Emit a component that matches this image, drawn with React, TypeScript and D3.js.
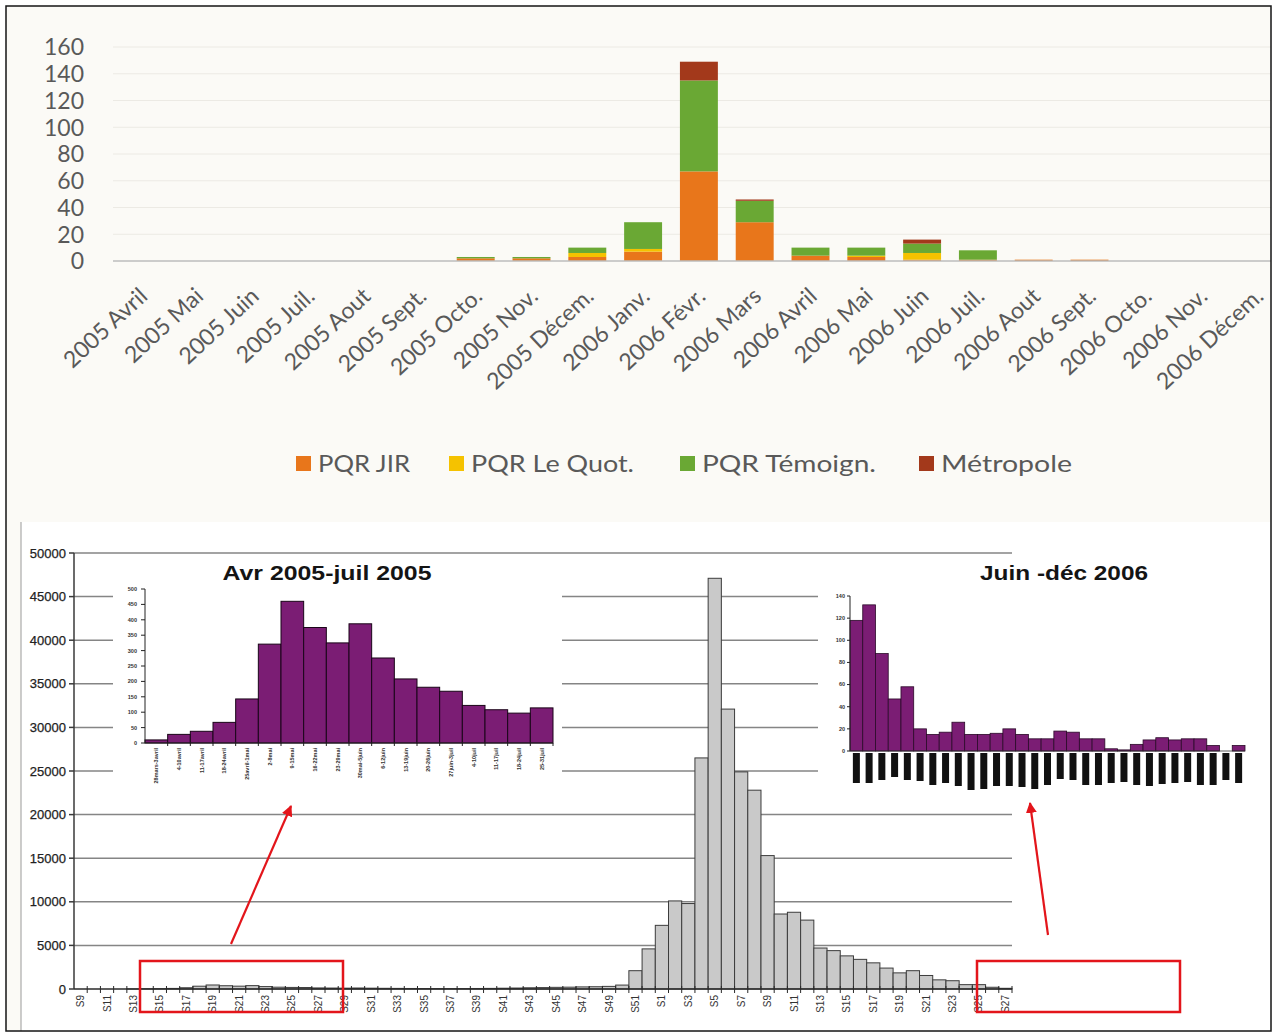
import React from "react";
import * as d3 from "d3";

// ---------- Top chart data (monthly press articles) ----------
const months = [
  "2005 Avril", "2005 Mai", "2005 Juin", "2005 Juil.", "2005 Aout", "2005 Sept.",
  "2005 Octo.", "2005 Nov.", "2005 Décem.", "2006 Janv.", "2006 Févr.", "2006 Mars",
  "2006 Avril", "2006 Mai", "2006 Juin", "2006 Juil.", "2006 Aout", "2006 Sept.",
  "2006 Octo.", "2006 Nov.", "2006 Décem.",
];
const pqrJir = [0, 0, 0, 0, 0, 0, 2, 2, 3, 7, 67, 29, 4, 3, 1, 1, 1, 1, 0, 0, 0];
const pqrQuot = [0, 0, 0, 0, 0, 0, 0, 0, 3, 2, 0, 0, 0, 1, 5, 0, 0, 0, 0, 0, 0];
const pqrTemoign = [0, 0, 0, 0, 0, 0, 1, 1, 4, 20, 68, 16, 6, 6, 7, 7, 0, 0, 0, 0, 0];
const metropole = [0, 0, 0, 0, 0, 0, 0, 0, 0, 0, 14, 1, 0, 0, 3, 0, 0, 0, 0, 0, 0];
const seriesNames = ["PQR JIR", "PQR Le Quot.", "PQR Témoign.", "Métropole"];
const seriesColors = ["#E8761B", "#F5C200", "#6AA834", "#A3391B"];
const topTicks = [0, 20, 40, 60, 80, 100, 120, 140, 160];

// ---------- Bottom chart data (weekly cases) ----------
const weekLabels = [
  "S9", "S10", "S11", "S12", "S13", "S14", "S15", "S16", "S17", "S18", "S19", "S20",
  "S21", "S22", "S23", "S24", "S25", "S26", "S27", "S28", "S29", "S30", "S31", "S32",
  "S33", "S34", "S35", "S36", "S37", "S38", "S39", "S40", "S41", "S42", "S43", "S44",
  "S45", "S46", "S47", "S48", "S49", "S50", "S51", "S52",
  "S1", "S2", "S3", "S4", "S5", "S6", "S7", "S8", "S9", "S10", "S11", "S12", "S13",
  "S14", "S15", "S16", "S17", "S18", "S19", "S20", "S21", "S22", "S23", "S24", "S25",
  "S26", "S27",
];
const weeklyCases = [
  0, 0, 0, 0,
  10, 28, 38, 67, 143, 321, 460, 375, 325, 387, 276, 208, 181, 168, 122, 108, 97, 114,
  95, 80, 70, 60, 55, 50, 45, 50, 60, 70, 90, 110, 140, 160, 190, 210, 240, 260, 300, 450, 2100, 4600,
  7300, 10100, 9800, 26500, 47100, 32100, 24900, 22800, 15300, 8600, 8800, 7900, 4700,
  4400, 3800, 3400, 3000, 2400, 1850, 2100, 1550, 1050, 950, 500, 500, 200, 80,
];
const mainTicks = [0, 5000, 10000, 15000, 20000, 25000, 30000, 35000, 40000, 45000, 50000];

// ---------- Inset: Avr 2005 - juil 2005 ----------
const avrLabels = [
  "28mars-3avril", "4-10avril", "11-17avril", "18-24avril", "25avril-1mai", "2-8mai",
  "9-15mai", "16-22mai", "23-29mai", "30mai-5juin", "6-12juin", "13-19juin",
  "20-26juin", "27juin-3juil", "4-10juil", "11-17juil", "18-24juil", "25-31juil",
];
const avrCases = [10, 28, 38, 67, 143, 321, 460, 375, 325, 387, 276, 208, 181, 168, 122, 108, 97, 114];
const avrTicks = [0, 50, 100, 150, 200, 250, 300, 350, 400, 450, 500];

// ---------- Inset: Juin - déc 2006 ----------
const juinCases = [118, 132, 88, 47, 58, 20, 15, 17, 26, 15, 15, 16, 20, 15, 11, 11, 18, 17, 11, 11, 2, 1, 6, 10, 12, 10, 11, 11, 5, 0, 5];
const juinLabelLengths = [30, 30, 27, 24, 27, 28, 32, 30, 33, 37, 36, 33, 33, 34, 36, 32, 26, 27, 32, 32, 30, 29, 32, 33, 31, 30, 29, 32, 32, 27, 30];
const juinTicks = [0, 20, 40, 60, 80, 100, 120, 140];

const PURPLE = "#7B1D74";
const ARIAL = "'Liberation Sans', Arial, sans-serif";
const CAL = "Lato, 'Open Sans', sans-serif";

export default function App() {
  const W = 1275;
  const H = 1035;

  // top chart scales
  const xTop = d3.scaleBand<string>().domain(months).range([113, 1284.8]).paddingInner(0.32).paddingOuter(0.16);
  const yTop = d3.scaleLinear().domain([0, 160]).range([261, 47]);
  const topRows = months.map((m, i) => ({ month: m, jir: pqrJir[i], quot: pqrQuot[i], tem: pqrTemoign[i], met: metropole[i] }));
  const topKeys = ["jir", "quot", "tem", "met"];
  const topStack = d3.stack<any>().keys(topKeys)(topRows);
  const legendX = [296, 449, 680, 919];
  const legendTextLen = [92, 163, 174, 131];

  // bottom main scales
  const idx = weekLabels.map((_, i) => i);
  const xMain = d3.scaleBand<number>().domain(idx).range([74, 1012]);
  const yMain = d3.scaleLinear().domain([0, 50000]).range([989, 553]);
  const bwMain = xMain.bandwidth();

  // inset scales
  const xA = d3.scaleBand<number>().domain(avrCases.map((_, i) => i)).range([145, 553]);
  const yA = d3.scaleLinear().domain([0, 500]).range([743, 589]);
  const xJ = d3.scaleBand<number>().domain(juinCases.map((_, i) => i)).range([850, 1245]);
  const yJ = d3.scaleLinear().domain([0, 140]).range([751, 596]);

  return (
    <div style={{ position: "absolute", left: 0, top: 0 }}>
      <svg width={W} height={H} viewBox={`0 0 ${W} ${H}`} style={{ display: "block" }}>
        <defs>
          <clipPath id="topClip">
            <rect x={6} y={6} width={1265} height={500} />
          </clipPath>
          <marker id="arrowHead" viewBox="0 0 10 10" refX="9" refY="5" markerWidth="5" markerHeight="5" orient="auto">
            <path d="M0,0 L10,5 L0,10 z" fill="#E3151B" />
          </marker>
        </defs>

        {/* backgrounds */}
        <rect x={0} y={0} width={W} height={H} fill="#ffffff" />
        <rect x={6} y={6} width={1265} height={1025} fill="#FBFAF6" />
        <rect x={21} y={522} width={1250} height={509} fill="#ffffff" />
        <line x1={21} y1={522} x2={21} y2={1031} stroke="#9a9a9a" strokeWidth={1} />

        {/* ===== TOP CHART ===== */}
        <g clipPath="url(#topClip)">
          {topTicks.filter((t) => t > 0).map((t) => (
            <line key={"tg" + t} x1={113} x2={1271} y1={yTop(t)} y2={yTop(t)} stroke="#ECEAE4" strokeWidth={1} />
          ))}
          {topStack.map((layer, si) => (
            <g key={"layer" + si} fill={seriesColors[si]}>
              {layer.map((d: any, i: number) => {
                const h = yTop(d[0]) - yTop(d[1]);
                if (h <= 0) return null;
                return (
                  <rect key={i} x={xTop(months[i])} width={xTop.bandwidth()} y={yTop(d[1])} height={h} />
                );
              })}
            </g>
          ))}
          <line x1={113} x2={1271} y1={yTop(0)} y2={yTop(0)} stroke="#BDBDBD" strokeWidth={1.5} />
          {months.map((m) => {
            const cx = (xTop(m) as number) + xTop.bandwidth() / 2;
            return (
              <text
                key={"ml" + m}
                transform={`translate(${cx + 8},${298}) rotate(-43)`}
                textAnchor="end"
                fontFamily={CAL}
                fontSize={23}
                fill="#595959"
              >
                {m}
              </text>
            );
          })}
        </g>
        {topTicks.map((t) => (
          <text key={"tt" + t} x={84} y={yTop(t)} dy="0.36em" textAnchor="end" fontFamily={CAL} fontSize={23} fill="#595959">
            {t}
          </text>
        ))}
        {/* legend */}
        {seriesNames.map((name, i) => (
          <g key={"lg" + i}>
            <rect x={legendX[i]} y={456} width={15} height={15} fill={seriesColors[i]} />
            <text
              x={legendX[i] + 22}
              y={463}
              dy="0.36em"
              fontFamily={CAL}
              fontSize={24}
              fill="#595959"
              textLength={legendTextLen[i]}
              lengthAdjust="spacingAndGlyphs"
            >
              {name}
            </text>
          </g>
        ))}

        {/* ===== BOTTOM MAIN CHART ===== */}
        {mainTicks.filter((t) => t > 0).map((t) => (
          <line key={"mg" + t} x1={74} x2={1012} y1={yMain(t)} y2={yMain(t)} stroke="#858585" strokeWidth={1.5} />
        ))}
        {/* inset white panels hiding gridlines */}
        <rect x={113} y={558} width={449} height={242} fill="#ffffff" />
        <rect x={818} y={557} width={453} height={243} fill="#ffffff" />

        {weeklyCases.map((v, i) =>
          v > 0 ? (
            <rect
              key={"wb" + i}
              x={xMain(i)}
              width={bwMain}
              y={yMain(v)}
              height={yMain(0) - yMain(v)}
              fill="#C9C9C9"
              stroke="#3C3C3C"
              strokeWidth={1}
            />
          ) : null
        )}
        {/* y axis */}
        <line x1={74} x2={74} y1={553} y2={989} stroke="#3a3a3a" strokeWidth={1.5} />
        {mainTicks.map((t) => (
          <g key={"my" + t}>
            <line x1={69} x2={74} y1={yMain(t)} y2={yMain(t)} stroke="#3a3a3a" strokeWidth={1.5} />
            <text x={66} y={yMain(t)} dy="0.36em" textAnchor="end" fontFamily={ARIAL} fontSize={13} fill="#222" stroke="#222" strokeWidth={0.25}>
              {t}
            </text>
          </g>
        ))}
        {/* x axis */}
        <line x1={74} x2={1012} y1={989} y2={989} stroke="#2a2a2a" strokeWidth={1.5} />
        {idx.map((i) => (
          <line key={"xt" + i} x1={(xMain(i) as number) + bwMain} x2={(xMain(i) as number) + bwMain} y1={986} y2={993} stroke="#2a2a2a" strokeWidth={1} />
        ))}
        {idx.filter((i) => i % 2 === 0).map((i) => (
          <text
            key={"xl" + i}
            transform={`translate(${(xMain(i) as number) + bwMain / 2},${995}) rotate(-90)`}
            textAnchor="end"
            dy="0.35em"
            fontFamily={ARIAL}
            fontSize={10}
            fill="#333"
          >
            {weekLabels[i]}
          </text>
        ))}

        {/* ===== LEFT INSET ===== */}
        <text x={327} y={580} textAnchor="middle" fontFamily={ARIAL} fontWeight="bold" fontSize={20} fill="#141414" textLength={209} lengthAdjust="spacingAndGlyphs">
          Avr 2005-juil 2005
        </text>
        {avrCases.map((v, i) => (
          <rect key={"ab" + i} x={xA(i)} width={xA.bandwidth()} y={yA(v)} height={yA(0) - yA(v)} fill={PURPLE} stroke="#1a0518" strokeWidth={1} />
        ))}
        <line x1={145} x2={145} y1={589} y2={743} stroke="#222" strokeWidth={1} />
        <line x1={145} x2={553} y1={743} y2={743} stroke="#222" strokeWidth={1.2} />
        {avrTicks.map((t) => (
          <g key={"at" + t}>
            <line x1={141} x2={145} y1={yA(t)} y2={yA(t)} stroke="#222" strokeWidth={1} />
            <text x={137} y={yA(t)} dy="0.35em" textAnchor="end" fontFamily={ARIAL} fontSize={5.5} fontWeight="bold" fill="#333">
              {t}
            </text>
          </g>
        ))}
        {avrCases.map((_, i) => (
          <line key={"axt" + i} x1={(xA(i) as number) + xA.bandwidth()} x2={(xA(i) as number) + xA.bandwidth()} y1={743} y2={746} stroke="#222" strokeWidth={1} />
        ))}
        {avrLabels.map((lab, i) => (
          <text
            key={"al" + i}
            transform={`translate(${(xA(i) as number) + xA.bandwidth() / 2},${748}) rotate(-90)`}
            textAnchor="end"
            dy="0.35em"
            fontFamily={ARIAL}
            fontSize={5.5}
            fontWeight="bold"
            fill="#333"
          >
            {lab}
          </text>
        ))}

        {/* ===== RIGHT INSET ===== */}
        <text x={1064} y={580} textAnchor="middle" fontFamily={ARIAL} fontWeight="bold" fontSize={20} fill="#141414" textLength={168} lengthAdjust="spacingAndGlyphs">
          Juin -déc 2006
        </text>
        {juinCases.map((v, i) =>
          v > 0 ? (
            <rect key={"jb" + i} x={xJ(i)} width={xJ.bandwidth()} y={yJ(v)} height={yJ(0) - yJ(v)} fill={PURPLE} stroke="#2a0a28" strokeWidth={0.8} />
          ) : null
        )}
        <line x1={850} x2={850} y1={596} y2={751} stroke="#222" strokeWidth={1} />
        <line x1={850} x2={1245} y1={751} y2={751} stroke="#333" strokeWidth={0.8} />
        {juinTicks.map((t) => (
          <g key={"jt" + t}>
            <line x1={847} x2={850} y1={yJ(t)} y2={yJ(t)} stroke="#222" strokeWidth={1} />
            <text x={845} y={yJ(t)} dy="0.35em" textAnchor="end" fontFamily={ARIAL} fontSize={5.5} fontWeight="bold" fill="#333">
              {t}
            </text>
          </g>
        ))}
        {juinLabelLengths.map((len, i) => (
          <rect key={"jl" + i} x={(xJ(i) as number) + xJ.bandwidth() / 2 - 3.5} y={753} width={7} height={len} fill="#111" />
        ))}

        {/* ===== RED ANNOTATIONS ===== */}
        <rect x={140} y={961} width={203} height={51} fill="none" stroke="#E3151B" strokeWidth={2.5} />
        <rect x={977} y={961} width={203} height={51} fill="none" stroke="#E3151B" strokeWidth={2.5} />
        <line x1={231} y1={944} x2={291} y2={806} stroke="#E3151B" strokeWidth={2.2} markerEnd="url(#arrowHead)" />
        <line x1={1048} y1={935} x2={1030} y2={803} stroke="#E3151B" strokeWidth={2.2} markerEnd="url(#arrowHead)" />

        {/* outer frame */}
        <rect x={6} y={6} width={1265} height={1025} fill="none" stroke="#151515" strokeWidth={1.5} />
      </svg>
    </div>
  );
}
